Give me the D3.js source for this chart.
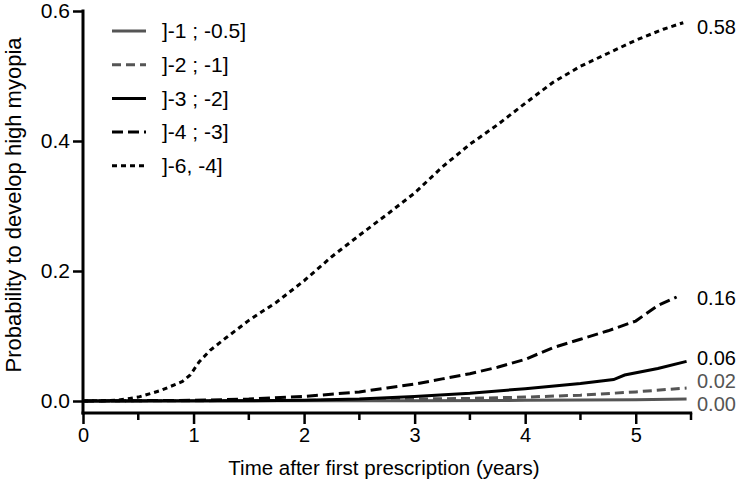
<!DOCTYPE html>
<html>
<head>
<meta charset="utf-8">
<script src="https://cdn.jsdelivr.net/npm/d3@7"></script>
<style>
  body { margin: 0; background: #fff; }
  svg text { font-family: "Liberation Sans", Arial, sans-serif; }
</style>
</head>
<body>
<div id="chart"></div>
<script>
// series names and styles (legend order)
var seriesNames = ["]-1 ; -0.5]", "]-2 ; -1]", "]-3 ; -2]", "]-4 ; -3]", "]-6, -4]"];
var endLabels = ["0.00", "0.02", "0.06", "0.16", "0.58"];
var endLabelPos = [-0.005, 0.031, 0.066, 0.158, 0.575];

// values (time in years, probability)
var t1 = [0, 3, 4, 5, 5.46];
var p1 = [0, 0.0005, 0.001, 0.002, 0.003];
var t2 = [0, 2, 3, 3.5, 4, 4.5, 5, 5.46];
var p2 = [0, 0.001, 0.003, 0.004, 0.006, 0.009, 0.014, 0.02];
var t3 = [0, 1.5, 2, 2.5, 3, 3.5, 4, 4.5, 4.8, 4.9, 5.2, 5.46];
var p3 = [0, 0.0005, 0.001, 0.003, 0.007, 0.012, 0.019, 0.027, 0.033, 0.04, 0.05, 0.061];
var t4 = [0, 1, 1.5, 2, 2.5, 2.75, 3, 3.25, 3.5, 3.75, 4, 4.25, 4.5, 4.75, 5, 5.2, 5.37];
var p4 = [0, 0.001, 0.003, 0.007, 0.014, 0.02, 0.026, 0.034, 0.042, 0.052, 0.064, 0.082, 0.095, 0.108, 0.123, 0.147, 0.16];
var t5 = [0, 0.3, 0.5, 0.7, 0.9, 0.97, 1.05, 1.15, 1.3, 1.5, 1.75, 2, 2.25, 2.5, 2.75, 3, 3.25, 3.5, 3.75, 4, 4.25, 4.5, 4.75, 5, 5.25, 5.43];
var p5 = [0, 0.001, 0.006, 0.016, 0.03, 0.04, 0.06, 0.078, 0.098, 0.124, 0.152, 0.185, 0.222, 0.255, 0.287, 0.32, 0.36, 0.395, 0.425, 0.458, 0.49, 0.515, 0.535, 0.555, 0.572, 0.582];

var xTicks = [0, 1, 2, 3, 4, 5];
var xMinor = [0.5, 1.5, 2.5, 3.5, 4.5, 5.5];
var yTicks = [0, 0.2, 0.4, 0.6];

var allT = [t1, t2, t3, t4, t5], allP = [p1, p2, p3, p4, p5];
var colors = ["#555", "#555", "#000", "#000", "#000"];
var dashes = [null, "9,5", null, "11,5", "5,4"];

var width = 740, height = 487;
var svg = d3.select("#chart").append("svg")
    .attr("width", width)
    .attr("height", height);

var x = d3.scaleLinear().domain([0, 5.5]).range([83, 691]);
var y = d3.scaleLinear().domain([0, 0.6]).range([401, 11]);

// y axis
var yAxis = svg.append("g")
    .attr("transform", "translate(83,0)")
    .call(d3.axisLeft(y).tickValues(yTicks).tickFormat(d3.format(".1f")).tickSize(10).tickPadding(3));
yAxis.select(".domain").remove();
yAxis.selectAll("text").style("font-size", "21px");
svg.append("line")
    .attr("x1", 83).attr("x2", 83)
    .attr("y1", y(0.6) - 1.5).attr("y2", 414.5)
    .attr("stroke", "#000").attr("stroke-width", 3);

// x axis
var xAxis = svg.append("g")
    .attr("transform", "translate(0,413)")
    .call(d3.axisBottom(x).tickValues(xTicks).tickFormat(d3.format("d")).tickSize(11).tickPadding(4));
xAxis.select(".domain").remove();
xAxis.selectAll("text").style("font-size", "20px");
svg.append("g")
    .attr("transform", "translate(0,413)")
    .selectAll("line").data(xMinor).enter().append("line")
    .attr("x1", d => x(d)).attr("x2", d => x(d))
    .attr("y1", 0).attr("y2", 7)
    .attr("stroke", "#000").attr("stroke-width", 2.5);
svg.append("line")
    .attr("x1", 81.5).attr("x2", x(5.5) + 1.2)
    .attr("y1", 413).attr("y2", 413)
    .attr("stroke", "#000").attr("stroke-width", 3);

svg.selectAll(".tick line").attr("stroke", "#000").attr("stroke-width", 2.5);
svg.selectAll(".tick text").attr("fill", "#000");

// axis titles
svg.append("text")
    .attr("x", x(2.75) - 3).attr("y", 475)
    .attr("text-anchor", "middle")
    .style("font-size", "20.5px")
    .text("Time after first prescription (years)");
svg.append("text")
    .attr("transform", "translate(21," + (y(0.3) - 1) + ") rotate(-90)")
    .attr("text-anchor", "middle")
    .style("font-size", "22px")
    .text("Probability to develop high myopia");

// lines
var line = d3.line()
    .x(d => x(d[0]))
    .y(d => y(d[1]));

allT.forEach(function (ts, i) {
    var pts = ts.map((t, j) => [t, allP[i][j]]);
    svg.append("path")
        .datum(pts)
        .attr("fill", "none")
        .attr("stroke", colors[i])
        .attr("stroke-width", 3)
        .attr("stroke-dasharray", dashes[i])
        .attr("d", line);
    svg.append("text")
        .attr("x", 697)
        .attr("y", y(endLabelPos[i]))
        .attr("dy", "0.35em")
        .attr("fill", i < 2 ? "#555" : "#000")
        .style("font-size", "20px")
        .text(endLabels[i]);
});

// legend
var legend = svg.append("g");
seriesNames.forEach(function (name, i) {
    var ly = 31 + i * 33.7;
    legend.append("line")
        .attr("x1", 112).attr("x2", 146)
        .attr("y1", ly).attr("y2", ly)
        .attr("stroke", colors[i])
        .attr("stroke-width", 3)
        .attr("stroke-dasharray", dashes[i]);
    legend.append("text")
        .attr("x", 162).attr("y", ly)
        .attr("dy", "0.35em")
        .style("font-size", "21px")
        .text(name);
});
</script>
</body>
</html>
